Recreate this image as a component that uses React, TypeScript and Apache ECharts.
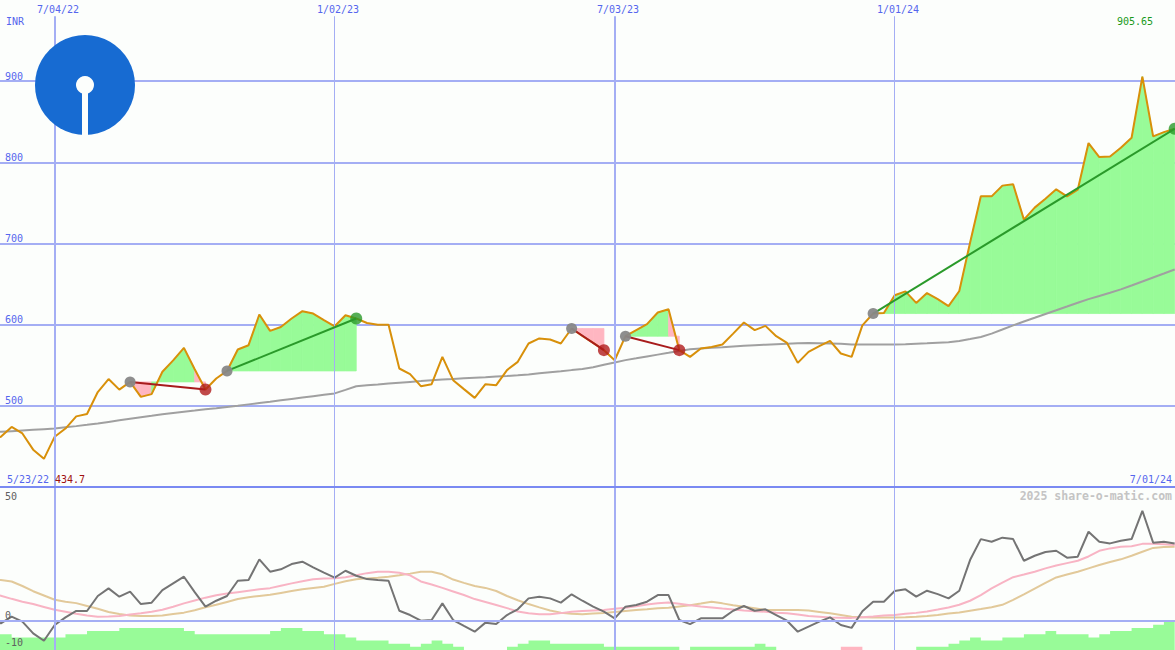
import React, { useEffect, useRef } from 'react';
import * as echarts from 'echarts';

// ---------- labels ----------
const CURRENCY = 'INR';
const START_DATE = '5/23/22';
const END_DATE = '7/01/24';
const LOW_LABEL = '434.7';
const HIGH_LABEL = '905.65';
const COPYRIGHT = '2025 share-o-matic.com';

// week index (0 = 5/23/22) of the dated gridlines
const dateTickIndex = [6, 32, 58, 84];
const dateTickLabels = ['7/04/22', '1/02/23', '7/03/23', '1/01/24'];
const oscTickLabels = ['50', '0', '-10'];

// ---------- weekly closing prices (INR), 5/23/22 .. 7/01/24 ----------
const price = [
  458, 462, 474, 466, 446, 434.7, 462, 472, 487, 490,
  517, 533, 520, 529.5, 511, 514.4, 542, 556, 571.4, 545,
  520.2, 533.7, 543, 569.4, 574.7, 612.5, 592.3, 597.2, 607.6, 616.6,
  613.7, 605.5, 598, 611.6, 607.6, 602, 600, 600, 546, 539,
  524.2, 526.7, 560.3, 531.6, 520.6, 509.8, 526.7, 525.5, 544, 554.2,
  576.8, 583, 581.7, 576.8, 595.3, 586, 577.5, 568.6, 556.2, 585.8,
  593.2, 600.6, 615, 619, 568.6, 560.3, 570.6, 572.6, 575.6, 589,
  602.6, 593.2, 598.5, 585.8, 577.5, 552.9, 566.5, 573.5, 580, 564.5,
  560.3, 599.1, 613.7, 614.5, 636.2, 641, 626.8, 639, 631.5, 622.8,
  641.5, 701, 758.1, 758.1, 771.3, 772.9, 729.4, 744.2, 755.2, 766.7,
  758.1, 766.3, 823.7, 806.5, 807.3, 818, 830.3, 905.65, 832, 837.2, 841.4,
];

// long moving average (grey)
const priceMA = [
  467, 468, 468.8, 469.6, 470.4, 471.2, 472, 473.5, 475, 476.6,
  478.3, 480.2, 482.1, 484, 485.9, 487.7, 489.6, 491.3, 492.8, 494.2,
  495.7, 497.1, 498.6, 500.1, 501.8, 503.5, 505.1, 506.8, 508.5, 510.2,
  511.9, 513.6, 515.3, 519.7, 524.2, 525.3, 526.3, 527.4, 528.5, 529.5,
  530.5, 531.6, 532.4, 533.1, 533.9, 534.6, 535.3, 536.1, 536.8, 537.6,
  538.7, 540, 541.3, 542.6, 544, 545.3, 547.5, 550.5, 553.5, 556.3,
  558.5, 560.8, 563.1, 565.3, 567.6, 569.6, 570.6, 571.5, 572.3, 573.2,
  574, 574.7, 575.3, 575.9, 576.5, 577.1, 577.4, 577.1, 576.8, 576.5,
  575.6, 575.6, 575.6, 575.6, 575.6, 575.8, 576.5, 577.1, 577.8, 578.4,
  579.9, 582.3, 584.9, 589, 594, 599.1, 603.9, 608.5, 613.2, 617.7,
  622.3, 627, 631.5, 635.4, 639.4, 643.5, 648.3, 653.2, 658.1, 663, 668,
];

// trend segments (week indices)
const trendStart = [13, 22, 54, 59, 82];
const trendEnd = [20, 34, 57, 64, 110];

// ---------- lower panel ----------
const oscFast = [
  1, -1.1, 1.7, -0.4, -5.3, -8.4, -1.8, 1.4, 4.1, 4.1,
  10.4, 13.6, 10.1, 12.2, 7, 7.6, 12.9, 15.7, 18.5, 12,
  5.9, 8.4, 10.4, 16.8, 17.1, 25.8, 20.6, 21.6, 23.8, 24.8,
  22.4, 20.2, 18.1, 21, 18.9, 17.5, 17.1, 16.8, 4.2, 2.4,
  0, 0.3, 7.3, 0.3, -2.2, -4.6, -0.8, -1.4, 2.4, 4.8,
  9.4, 10.1, 9.4, 7.6, 11.1, 8.4, 5.9, 3.8, 1, 5.9,
  6.6, 8, 10.8, 10.8, 0.3, -1.4, 1, 1, 1, 4.2,
  6.2, 4.2, 4.8, 2.4, 0, -4.6, -2.5, -0.4, 1.4, -1.8,
  -3, 4, 8, 8, 12.5, 13.2, 10.1, 12.6, 11.2, 9.4,
  12.6, 25.5, 34.3, 33.2, 34.9, 34.3, 25.2, 27.3, 28.9, 29.4,
  26.5, 26.9, 37.4, 33.2, 32.5, 33.6, 34.3, 46.2, 32.8, 33.2, 32.5,
];
const oscSignal = [
  11.5, 10.5, 9.2, 8, 7, 5.8, 4.6, 3.8, 2.9, 2.2,
  1.7, 1.8, 2, 2.6, 3.1, 3.8, 4.6, 5.9, 7.3, 8.5,
  9.7, 10.7, 11.4, 12, 12.6, 13.2, 13.7, 14.7, 15.7, 16.6,
  17.4, 17.7, 17.8, 18.3, 19.1, 20, 20.6, 20.6, 20.2, 19.1,
  16.5, 15.2, 13.8, 12.3, 10.8, 9.1, 7.9, 6.6, 5.3, 3.9,
  3.1, 2.7, 2.7, 3.2, 3.8, 4.1, 4.3, 4.5, 5, 5.5,
  6.1, 6.8, 7.3, 7.7, 7.1, 6.5, 6, 5.6, 5.1, 4.7,
  4.3, 4, 3.8, 3.4, 3.1, 2.6, 2, 1.7, 1.4, 1.3,
  1.2, 1.5, 1.8, 2.2, 2.4, 2.9, 3.3, 3.9, 4.7, 5.6,
  6.7, 8.4, 10.8, 13.6, 16, 18.3, 19.4, 20.6, 22, 23.2,
  24.2, 25.2, 27, 29.4, 30.4, 31.1, 31.3, 32.3, 32.4, 32.1, 31.8,
];
const oscSlow = [
  17.3, 17.1, 16.5, 14.6, 12.4, 10.6, 8.8, 8, 7.4, 6.2,
  5, 3.7, 2.8, 2.2, 2, 2, 2.2, 2.8, 3.4, 4.4,
  5.7, 6.7, 7.9, 9.1, 9.9, 10.4, 10.9, 11.7, 12.5, 13.2,
  13.8, 14.3, 15.5, 16.6, 17.4, 17.8, 18.1, 18.5, 19.1, 19.8,
  20.6, 20.6, 19.5, 17.3, 15.9, 14.6, 13.8, 12.5, 10.4, 8.6,
  7, 5.6, 4.3, 3.4, 2.9, 2.7, 3, 3.3, 3.7, 4.1,
  4.5, 4.8, 5.2, 5.5, 6, 6.5, 7.2, 8, 7.3, 6.5,
  5.9, 5.2, 4.5, 4.5, 4.5, 4.5, 4.3, 3.7, 3.1, 2.4,
  1.7, 1.5, 1.4, 1.4, 1.4, 1.5, 1.7, 2, 2.4, 3,
  3.5, 4.2, 4.9, 5.7, 6.7, 8.8, 11.1, 13.5, 15.9, 18.2,
  19.4, 20.6, 22, 23.4, 24.7, 25.8, 27.3, 29, 30.6, 31, 31.1,
];
// trend strength per week (negative = bearish, drawn pink)
const strength = [
  5, 5, 5, 4, 4, 4, 4, 4, 5, 5,
  6, 6, 6, 7, 7, 7, 7, 7, 7, 6,
  5, 5, 5, 5, 5, 5, 5, 6, 7, 7,
  6, 6, 5, 5, 4, 3, 3, 3, 2, 2,
  1, 2, 3, 2, 1, 0, 0, 0, 0, 1,
  2, 3, 3, 2, 2, 2, 2, 2, 1, 1,
  1, 1, 1, 1, 1, 0, 1, 1, 1, 1,
  1, 1, 2, 1, 0, 0, 0, 0, 0, 0,
  -1, -1, 0, 0, 0, 0, 0, 1, 1, 1,
  2, 3, 4, 3, 3, 4, 4, 5, 5, 6,
  5, 5, 5, 4, 5, 6, 6, 7, 7, 8, 9,
];

// ---------- styles ----------
const BG = '#fcfefc';
const GRID_BLUE = '#a4aef4';
const SEP_BLUE = '#7a8af2';
const LABEL_BLUE = '#5566ee';
const PRICE_ORANGE = '#d8900a';
const MA_GREY = '#a0a0a0';
const FILL_GREEN = '#98fb98';
const FILL_PINK = '#ffb6c1';
const UP_GREEN = '#2a9a2a';
const DOWN_RED = '#a81c1c';
const FONT = '"DejaVu Sans Mono", monospace';

const X_MIN = 0.92;
const X_MAX = 110.03;

function txt(text: string, x: number, y: number, fill: string, align = 'left', size = 10, weight = 'normal') {
  return {
    type: 'text',
    x,
    y,
    z: 80,
    silent: true,
    style: {
      text,
      fill,
      font: `${weight} ${size}px ${FONT}`,
      textAlign: align,
      textVerticalAlign: 'middle',
      align,
      verticalAlign: 'middle',
    },
  };
}

export default function App() {
  const ref = useRef<HTMLDivElement>(null);

  useEffect(() => {
    const el = ref.current;
    if (!el) return;
    const chart = echarts.init(el, null, { renderer: 'svg' });

    const pts = (arr: number[]) => arr.map((v, i) => [i, v]);

    // fill polygons between price and the trend's starting level
    const fillItems: number[][] = [];
    trendStart.forEach((s, k) => {
      const e = trendEnd[k];
      const base = price[s];
      for (let i = s; i < e; i++) {
        fillItems.push([i, i + 1, base, price[i], price[i + 1], price[i + 1] >= base ? 1 : 0]);
      }
    });

    const trendSeries = trendStart.map((s, k) => {
      const e = trendEnd[k];
      const up = price[e] >= price[s];
      return {
        type: 'line',
        xAxisIndex: 0,
        yAxisIndex: 0,
        data: [[s, price[s]], [e, price[e]]],
        symbol: 'none',
        silent: true,
        z: 5,
        lineStyle: { color: up ? UP_GREEN : DOWN_RED, width: 2 },
      };
    });

    const vLinesUpper = dateTickIndex.map((d, k) => [
      { coord: [d, 980], lineStyle: { color: GRID_BLUE, width: k % 2 === 0 ? 2 : 1, type: 'solid' } },
      { coord: [d, 400] },
    ]);
    const vLinesLower = dateTickIndex.map((d, k) => [
      { coord: [d, 56.2], lineStyle: { color: GRID_BLUE, width: k % 2 === 0 ? 2 : 1, type: 'solid' } },
      { coord: [d, -12.3] },
    ]);

    const option: any = {
      animation: false,
      backgroundColor: BG,
      grid: [
        { left: 0, top: 0, width: 1175, height: 487 },
        { left: 0, top: 487, width: 1175, height: 163 },
      ],
      xAxis: [
        { type: 'value', gridIndex: 0, min: X_MIN, max: X_MAX, show: false },
        { type: 'value', gridIndex: 1, min: X_MIN, max: X_MAX, show: false },
      ],
      yAxis: [
        {
          type: 'value',
          gridIndex: 0,
          min: 400,
          max: 1000,
          interval: 100,
          axisLine: { show: false },
          axisTick: { show: false },
          splitLine: {
            show: true,
            showMinLine: false,
            showMaxLine: false,
            lineStyle: { color: GRID_BLUE, width: 2 },
          },
          axisLabel: {
            inside: true,
            margin: 5,
            verticalAlign: 'bottom',
            color: LABEL_BLUE,
            fontFamily: FONT,
            fontSize: 10,
            showMinLabel: false,
            showMaxLabel: false,
          },
        },
        { type: 'value', gridIndex: 1, min: -12.3, max: 56.2, show: false },
        { type: 'value', gridIndex: 1, min: 0, max: 51.75, show: false },
      ],
      series: [
        {
          type: 'custom',
          xAxisIndex: 0,
          yAxisIndex: 0,
          silent: true,
          z: 1,
          data: fillItems,
          encode: { x: [0, 1], y: [2, 3, 4] },
          renderItem: (_params: any, api: any) => {
            const i0 = api.value(0);
            const i1 = api.value(1);
            const base = api.value(2);
            const a = api.coord([i0, base]);
            const b = api.coord([i0, api.value(3)]);
            const c = api.coord([i1, api.value(4)]);
            const d = api.coord([i1, base]);
            const col = api.value(5) ? FILL_GREEN : FILL_PINK;
            return {
              type: 'polygon',
              shape: { points: [a, b, c, d] },
              style: { fill: col, stroke: col, lineWidth: 0.8 },
            };
          },
        },
        {
          type: 'line',
          xAxisIndex: 0,
          yAxisIndex: 0,
          data: pts(priceMA),
          symbol: 'none',
          silent: true,
          z: 3,
          lineStyle: { color: MA_GREY, width: 2 },
          markLine: {
            silent: true,
            symbol: ['none', 'none'],
            label: { show: false },
            data: vLinesUpper,
          },
        },
        {
          type: 'line',
          xAxisIndex: 0,
          yAxisIndex: 0,
          data: pts(price),
          symbol: 'none',
          silent: true,
          z: 4,
          lineStyle: { color: PRICE_ORANGE, width: 2 },
        },
        ...trendSeries,
        {
          type: 'scatter',
          xAxisIndex: 0,
          yAxisIndex: 0,
          silent: true,
          z: 6,
          symbolSize: 11,
          itemStyle: { color: '#888888', opacity: 0.95 },
          data: trendStart.map((s) => [s, price[s]]),
        },
        {
          type: 'scatter',
          xAxisIndex: 0,
          yAxisIndex: 0,
          silent: true,
          z: 6,
          symbolSize: 12,
          data: trendEnd.map((e, k) => ({
            value: [e, price[e]],
            itemStyle: { color: price[e] >= price[trendStart[k]] ? UP_GREEN : '#b01c1c' },
          })),
        },
        // lower panel: strength steps
        {
          type: 'line',
          xAxisIndex: 1,
          yAxisIndex: 2,
          step: 'start',
          symbol: 'none',
          silent: true,
          z: 1,
          lineStyle: { width: 0 },
          areaStyle: { color: FILL_GREEN, opacity: 1 },
          data: strength.map((v, i) => [i, v > 0 ? v : 0]),
        },
        {
          type: 'line',
          xAxisIndex: 1,
          yAxisIndex: 2,
          step: 'start',
          symbol: 'none',
          silent: true,
          z: 1,
          lineStyle: { width: 0 },
          areaStyle: { color: FILL_PINK, opacity: 1 },
          data: strength.map((v, i) => [i, v < 0 ? -v : 0]),
        },
        {
          type: 'line',
          xAxisIndex: 1,
          yAxisIndex: 1,
          data: pts(oscSlow),
          symbol: 'none',
          silent: true,
          z: 2,
          lineStyle: { color: '#e2c99a', width: 2 },
          markLine: {
            silent: true,
            symbol: ['none', 'none'],
            label: { show: false },
            data: [
              { yAxis: 0, lineStyle: { color: GRID_BLUE, width: 2, type: 'solid' } },
              ...vLinesLower,
            ],
          },
        },
        {
          type: 'line',
          xAxisIndex: 1,
          yAxisIndex: 1,
          data: pts(oscSignal),
          symbol: 'none',
          silent: true,
          z: 2,
          lineStyle: { color: '#f8b4c4', width: 2 },
        },
        {
          type: 'line',
          xAxisIndex: 1,
          yAxisIndex: 1,
          data: pts(oscFast),
          symbol: 'none',
          silent: true,
          z: 3,
          lineStyle: { color: '#747474', width: 2 },
        },
      ],
      graphic: [
        { type: 'line', z: 70, silent: true, shape: { x1: 0, y1: 487, x2: 1175, y2: 487 }, style: { stroke: SEP_BLUE, lineWidth: 2 } },
        { type: 'circle', z: 75, silent: true, shape: { cx: 85, cy: 85, r: 50 }, style: { fill: '#176bd2' } },
        { type: 'circle', z: 76, silent: true, shape: { cx: 85, cy: 85, r: 9 }, style: { fill: BG } },
        { type: 'rect', z: 76, silent: true, shape: { x: 82, y: 85, width: 6, height: 51 }, style: { fill: BG } },
        txt(CURRENCY, 6, 21, LABEL_BLUE),
        ...dateTickLabels.map((l, k) => txt(l, [58, 338, 618, 898][k], 9, LABEL_BLUE, 'center')),
        txt(HIGH_LABEL, 1153, 21, '#1a9a1a', 'right'),
        txt(START_DATE, 7, 479, LABEL_BLUE),
        txt(LOW_LABEL, 55, 479, '#a01010'),
        txt(END_DATE, 1172, 479, LABEL_BLUE, 'right'),
        txt(COPYRIGHT, 1172, 496, '#c4c4c4', 'right', 11.5, 'bold'),
        txt(oscTickLabels[0], 5, 496, '#606060'),
        txt(oscTickLabels[1], 5, 615, '#606060'),
        txt(oscTickLabels[2], 5, 642, '#606060'),
      ],
    };

    chart.setOption(option);
    return () => chart.dispose();
  }, []);

  return <div ref={ref} style={{ position: 'fixed', left: 0, top: 0, width: 1175, height: 650 }} />;
}
